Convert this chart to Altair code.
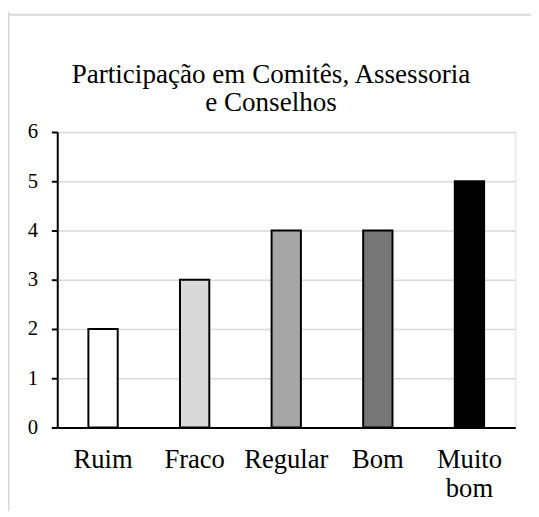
import altair as alt
import pandas as pd

categories = ["Ruim", "Fraco", "Regular", "Bom", "Muito bom"]
values = [2, 3, 4, 4, 5]
colors = ["#ffffff", "#d9d9d9", "#a6a6a6", "#767676", "#000000"]
title_lines = ["Participação em Comitês, Assessoria", "e Conselhos"]
y_ticks = [0, 1, 2, 3, 4, 5, 6]

df = pd.DataFrame({"cat": categories, "val": values, "col": colors})

FONT = "Liberation Serif"

bars = alt.Chart(df).mark_bar(stroke="black", strokeWidth=2).encode(
    x=alt.X(
        "cat:N",
        sort=categories,
        scale=alt.Scale(paddingInner=0.68, paddingOuter=0.34),
        axis=alt.Axis(
            title=None,
            labelAngle=0,
            ticks=False,
            domainColor="black",
            domainWidth=2,
            labelFont=FONT,
            labelFontSize=27,
            labelColor="black",
            labelPadding=20,
            labelLineHeight=29,
            labelExpr="datum.label == 'Muito bom' ? ['Muito', 'bom'] : datum.label",
        ),
    ),
    y=alt.Y(
        "val:Q",
        scale=alt.Scale(domain=[0, 6], nice=False),
        axis=alt.Axis(
            title=None,
            values=y_ticks,
            grid=True,
            gridColor="#d9d9d9",
            gridWidth=1.5,
            domainColor="black",
            domainWidth=2,
            tickColor="black",
            tickWidth=2,
            tickSize=6,
            labelFont=FONT,
            labelFontSize=21,
            labelColor="black",
            labelPadding=14,
        ),
    ),
    fill=alt.Fill("col:N", scale=None),
)

frame = pd.DataFrame({"k": [0]})
vline = alt.Chart(frame).mark_rule(color="#d9d9d9", strokeWidth=2).encode(
    x=alt.value(-49.5), y=alt.value(-122), y2=alt.value(385)
)
hline = alt.Chart(frame).mark_rule(color="#d9d9d9", strokeWidth=2).encode(
    y=alt.value(-119), x=alt.value(-49.5), x2=alt.value(481)
)
title = alt.Chart(frame).mark_text(
    font=FONT, fontSize=27.5, color="black", align="center",
    baseline="alphabetic", lineHeight=29,
).encode(
    x=alt.value(217), y=alt.value(-50), text=alt.value(title_lines)
)

chart = (
    alt.layer(bars, vline, hline, title)
    .properties(
        width=465,
        height=300,
        autosize=alt.AutoSizeParams(type="none"),
        padding={"left": 50, "top": 122, "right": 16, "bottom": 87},
    )
    .configure_view(stroke=None)
    .configure(background="white", font=FONT)
)

chart.save("out.html", embed_options={"renderer": "svg", "actions": False})
